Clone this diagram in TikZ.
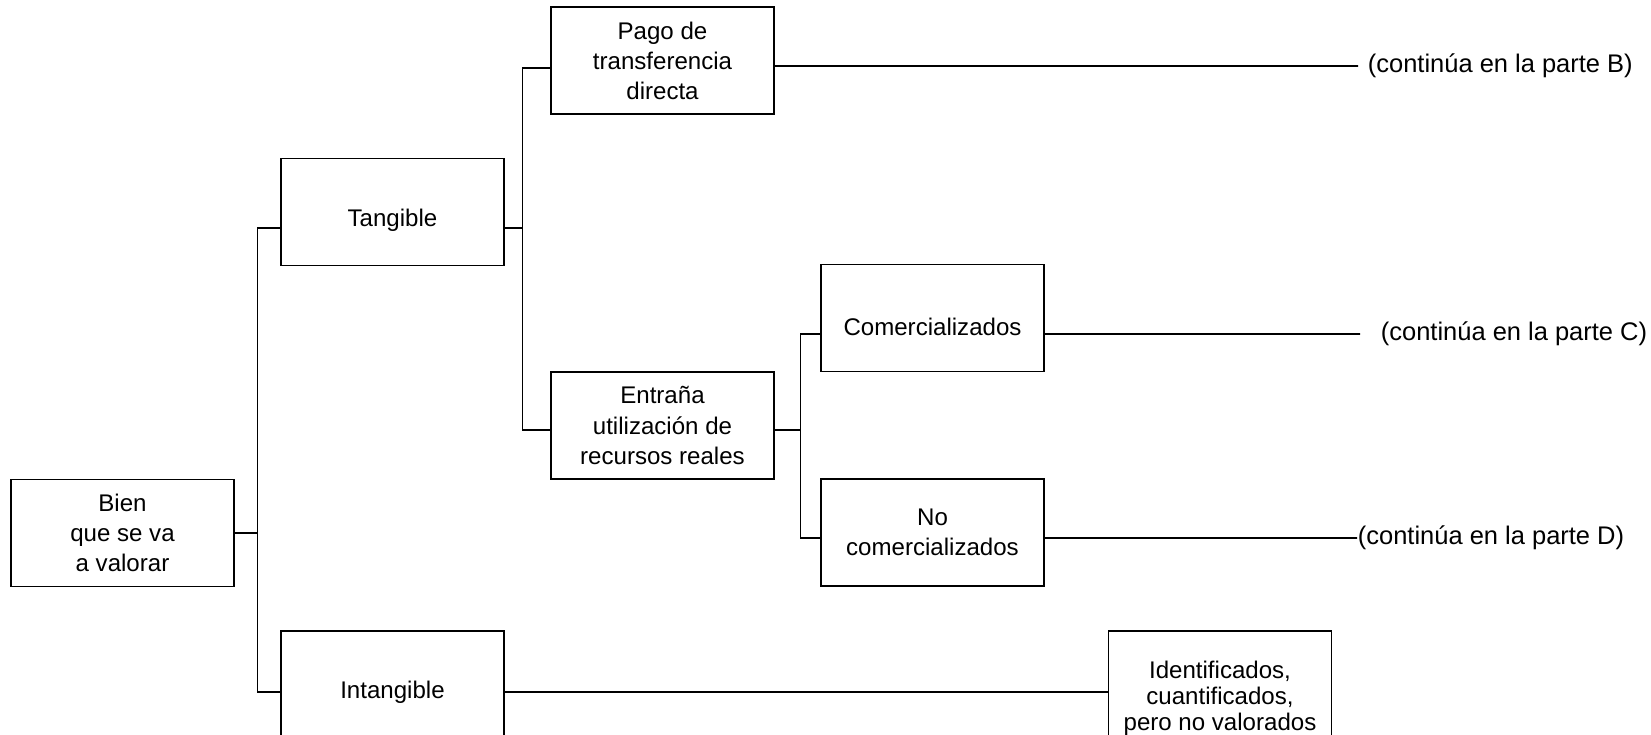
\documentclass[tikz,border=0pt]{standalone}
\usepackage{fontspec}
\setmainfont{Liberation Sans}
\usetikzlibrary{positioning}

\begin{document}
\begin{tikzpicture}[line width=1pt,node distance=5.4cm,
        box/.style={draw,line width=0.6pt,minimum width=4.46cm,minimum height=2.14cm,inner sep=0pt,align=center,font=\fontsize{13.7}{17.1}\selectfont},
        cont/.style={anchor=west,inner ysep=0pt,font=\fontsize{14.5}{17}\selectfont},
        elbow/.style={to path={-- ++(#1,0) |- (\tikztotarget)}}]
        \useasboundingbox (0,0) rectangle (33.02,-14.7);

        \node[box] (bien) at (2.45,-10.66)
            {Bien\\que se va\\a valorar};

        \node[box] (tangible) [right of=bien, yshift=6.42cm]
            {\raisebox{-0.16cm}[\height][\depth]{Tangible}};

        \node[box, minimum height=2.44cm] (intangible) [right of=bien, yshift=-3.18cm]
            {Intangible};

        \node[box] (pago) [right of=tangible, yshift=3.03cm]
            {Pago de\\transferencia\\directa};

        \node[box] (entrana) [right of=tangible, yshift=-4.27cm]
            {Entraña\\utilización de\\recursos reales};

        \node[box] (comerc) [right of=entrana, yshift=2.15cm]
            {\raisebox{-0.18cm}[\height][\depth]{Comercializados}};

        \node[box] (nocomerc) [right of=entrana, yshift=-2.14cm]
            {No\\comercializados};

        \node[box, minimum height=2.68cm, font=\fontsize{13.7}{14.8}\selectfont] (ident) [right of=intangible, xshift=11.15cm, yshift=-0.12cm]
            {Identificados,\\cuantificados,\\pero no valorados};

        \node[cont, inner xsep=0.18cm] (contB) at (27.16,-1.32)
            {(continúa en la parte B)};

        \node[cont, inner xsep=0.4cm] (contC) at (27.2,-6.68)
            {(continúa en la parte C)};

        \node[cont, inner xsep=0pt] (contD) at (27.14,-10.76)
            {(continúa en la parte D)};

        \path
        (bien.east)                      edge[elbow=0.46cm] ([yshift=-0.32cm]tangible.west)
        (bien.east)                      edge[elbow=0.46cm] (intangible.west)
        ([yshift=-0.32cm]tangible.east)  edge[elbow=0.36cm] ([yshift=-0.15cm]pago.west)
        ([yshift=-0.32cm]tangible.east)  edge[elbow=0.36cm] ([yshift=-0.09cm]entrana.west)
        ([yshift=-0.09cm]entrana.east)   edge[elbow=0.52cm] ([yshift=-0.32cm]comerc.west)
        ([yshift=-0.09cm]entrana.east)   edge[elbow=0.52cm] ([yshift=-0.11cm]nocomerc.west)
        ([yshift=-0.11cm]pago.east)      edge (contB)
        ([yshift=-0.32cm]comerc.east)    edge (contC)
        ([yshift=-0.11cm]nocomerc.east)  edge (contD)
        (intangible.east)                edge (intangible.east -| ident.west)
        ;
    \end{tikzpicture}
\end{document}
